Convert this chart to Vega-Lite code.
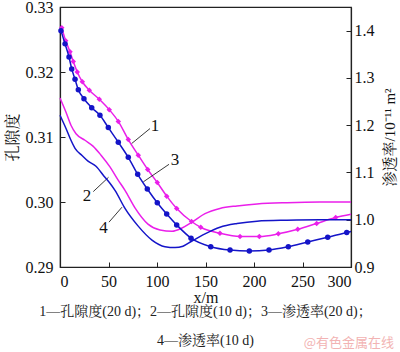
{
  "$schema": "https://vega.github.io/schema/vega-lite/v6.json",
  "width": 291,
  "height": 260,
  "autosize": {"type": "none"},
  "padding": {"left": 60, "top": 7, "right": 49, "bottom": 85},
  "config": {
    "font": "Liberation Serif, Noto Serif CJK SC, Noto Sans CJK SC",
    "view": {"stroke": "#222", "strokeWidth": 1.2},
    "axis": {
      "grid": false,
      "domainColor": "#222",
      "domainWidth": 1.2,
      "tickColor": "#222",
      "tickSize": -5,
      "labelColor": "#111",
      "titleColor": "#111",
      "labelFont": "Liberation Serif",
      "labelFontSize": 16,
      "titleFont": "Liberation Serif, Noto Serif CJK SC, Noto Sans CJK SC",
      "titleFontSize": 16,
      "titleFontWeight": "normal"
    }
  },
  "datasets": {
    "porosity": [
      {"s": "1", "x": 1.8, "y": 0.3268}, {"s": "1", "x": 5.9, "y": 0.3248}, {"s": "1", "x": 10.3, "y": 0.3231}, {"s": "1", "x": 13.7, "y": 0.3216}, {"s": "1", "x": 17.8, "y": 0.32}, {"s": "1", "x": 23.0, "y": 0.3185}, {"s": "1", "x": 30.2, "y": 0.3172}, {"s": "1", "x": 40.5, "y": 0.3158}, {"s": "1", "x": 50.8, "y": 0.3142}, {"s": "1", "x": 60.1, "y": 0.3124}, {"s": "1", "x": 70.4, "y": 0.3096}, {"s": "1", "x": 80.7, "y": 0.3072}, {"s": "1", "x": 90.4, "y": 0.305}, {"s": "1", "x": 100.3, "y": 0.303}, {"s": "1", "x": 110.0, "y": 0.3009}, {"s": "1", "x": 120.3, "y": 0.299}, {"s": "1", "x": 135.6, "y": 0.297}, {"s": "1", "x": 145.1, "y": 0.2961}, {"s": "1", "x": 164.9, "y": 0.2952}, {"s": "1", "x": 185.6, "y": 0.2947}, {"s": "1", "x": 205.5, "y": 0.2947}, {"s": "1", "x": 225.1, "y": 0.2951}, {"s": "1", "x": 245.1, "y": 0.2958}, {"s": "1", "x": 264.6, "y": 0.2967}, {"s": "1", "x": 284.2, "y": 0.2976}, {"s": "1", "x": 300, "y": 0.2981},
      {"s": "2", "x": 0, "y": 0.316}, {"s": "2", "x": 6.2, "y": 0.3138}, {"s": "2", "x": 11.3, "y": 0.3118}, {"s": "2", "x": 16.5, "y": 0.3105}, {"s": "2", "x": 25.8, "y": 0.3095}, {"s": "2", "x": 34.0, "y": 0.3086}, {"s": "2", "x": 42.3, "y": 0.3072}, {"s": "2", "x": 51.5, "y": 0.3054}, {"s": "2", "x": 59.8, "y": 0.3034}, {"s": "2", "x": 67.0, "y": 0.3018}, {"s": "2", "x": 77.3, "y": 0.2991}, {"s": "2", "x": 90.7, "y": 0.2966}, {"s": "2", "x": 103.1, "y": 0.2957}, {"s": "2", "x": 115.5, "y": 0.2955}, {"s": "2", "x": 125.8, "y": 0.296}, {"s": "2", "x": 136.1, "y": 0.2969}, {"s": "2", "x": 149.5, "y": 0.2982}, {"s": "2", "x": 164.9, "y": 0.299}, {"s": "2", "x": 182.5, "y": 0.2994}, {"s": "2", "x": 203.1, "y": 0.2997}, {"s": "2", "x": 234.0, "y": 0.2999}, {"s": "2", "x": 268.0, "y": 0.3}, {"s": "2", "x": 300, "y": 0.3}
    ],
    "perm": [
      {"s": "3", "x": 1.0, "y": 1.4}, {"s": "3", "x": 5.2, "y": 1.372}, {"s": "3", "x": 9.3, "y": 1.344}, {"s": "3", "x": 12.1, "y": 1.319}, {"s": "3", "x": 15.5, "y": 1.297}, {"s": "3", "x": 18.9, "y": 1.275}, {"s": "3", "x": 24.7, "y": 1.256}, {"s": "3", "x": 32.7, "y": 1.237}, {"s": "3", "x": 41.2, "y": 1.221}, {"s": "3", "x": 49.8, "y": 1.195}, {"s": "3", "x": 60.1, "y": 1.164}, {"s": "3", "x": 70.4, "y": 1.132}, {"s": "3", "x": 80.1, "y": 1.096}, {"s": "3", "x": 90.0, "y": 1.065}, {"s": "3", "x": 100.3, "y": 1.036}, {"s": "3", "x": 110.0, "y": 1.012}, {"s": "3", "x": 120.3, "y": 0.989}, {"s": "3", "x": 135.1, "y": 0.961}, {"s": "3", "x": 155.4, "y": 0.943}, {"s": "3", "x": 175.3, "y": 0.936}, {"s": "3", "x": 195.2, "y": 0.934}, {"s": "3", "x": 215.5, "y": 0.936}, {"s": "3", "x": 235.4, "y": 0.943}, {"s": "3", "x": 255.4, "y": 0.953}, {"s": "3", "x": 276.0, "y": 0.963}, {"s": "3", "x": 295.6, "y": 0.973}, {"s": "3", "x": 300, "y": 0.975},
      {"s": "4", "x": 0, "y": 1.221}, {"s": "4", "x": 6.2, "y": 1.193}, {"s": "4", "x": 11.3, "y": 1.168}, {"s": "4", "x": 15.5, "y": 1.151}, {"s": "4", "x": 22.7, "y": 1.136}, {"s": "4", "x": 28.9, "y": 1.124}, {"s": "4", "x": 37.1, "y": 1.113}, {"s": "4", "x": 45.4, "y": 1.092}, {"s": "4", "x": 51.5, "y": 1.077}, {"s": "4", "x": 56.7, "y": 1.062}, {"s": "4", "x": 67.0, "y": 1.024}, {"s": "4", "x": 80.4, "y": 0.987}, {"s": "4", "x": 94.8, "y": 0.957}, {"s": "4", "x": 108.2, "y": 0.943}, {"s": "4", "x": 118.6, "y": 0.941}, {"s": "4", "x": 126.8, "y": 0.944}, {"s": "4", "x": 136.1, "y": 0.955}, {"s": "4", "x": 149.5, "y": 0.97}, {"s": "4", "x": 164.9, "y": 0.984}, {"s": "4", "x": 182.5, "y": 0.992}, {"s": "4", "x": 203.1, "y": 0.997}, {"s": "4", "x": 234.0, "y": 0.999}, {"s": "4", "x": 268.0, "y": 1.0}, {"s": "4", "x": 300, "y": 1.0}
    ],
    "labels": [
      {"t": "1", "x": 97.9, "y": 0.3117},
      {"t": "3", "x": 118.6, "y": 0.3065},
      {"t": "2", "x": 27.8, "y": 0.3009},
      {"t": "4", "x": 44.8, "y": 0.296}
    ],
    "leaders": [
      {"x": 73.9, "y": 0.309, "x2": 92.8, "y2": 0.3113},
      {"x": 85.9, "y": 0.3031, "x2": 112.4, "y2": 0.3058},
      {"x": 34.3, "y": 0.3016, "x2": 50.0, "y2": 0.3038},
      {"x": 50.5, "y": 0.2969, "x2": 63.9, "y2": 0.2992}
    ],
    "notes": [
      {"t": "1—孔隙度(20 d)；2—孔隙度(10 d)；3—渗透率(20 d)；", "x": 150, "y": 0.29},
      {"t": "4—渗透率(10 d)", "x": 150, "y": 0.29},
      {"t": "@有色金属在线", "x": 300, "y": 0.29}
    ]
  },
  "layer": [
    {
      "layer": [
        {
          "data": {"name": "porosity"},
          "mark": {"type": "line", "interpolate": "monotone", "strokeWidth": 1.5},
          "encoding": {
            "x": {"field": "x", "type": "quantitative", "scale": {"domain": [0, 300], "nice": false}, "axis": {"values": [0, 50, 100, 150, 200, 250, 300], "title": "x/m", "labelPadding": 11, "titlePadding": 0, "titleFontSize": 16}},
            "y": {"field": "y", "type": "quantitative", "scale": {"domain": [0.29, 0.33], "nice": false, "zero": false}, "axis": {"values": [0.29, 0.3, 0.31, 0.32, 0.33], "format": ".2f", "title": "孔隙度", "labelPadding": 12, "titlePadding": 5}},
            "color": {"field": "s", "type": "nominal", "scale": {"domain": ["1", "2", "3", "4"], "range": ["#ea1fea", "#ea1fea", "#1414c8", "#1414c8"]}, "legend": null}
          }
        },
        {
          "data": {"name": "porosity"},
          "transform": [{"filter": "datum.s == '1' && datum.x < 299"}],
          "mark": {"type": "point", "shape": "diamond", "filled": true, "size": 30, "opacity": 1},
          "encoding": {
            "x": {"field": "x", "type": "quantitative"},
            "y": {"field": "y", "type": "quantitative"},
            "color": {"field": "s", "type": "nominal", "legend": null}
          }
        },
        {
          "data": {"name": "leaders"},
          "mark": {"type": "rule", "color": "#222", "strokeWidth": 0.9},
          "encoding": {
            "x": {"field": "x", "type": "quantitative"},
            "y": {"field": "y", "type": "quantitative"},
            "x2": {"field": "x2"},
            "y2": {"field": "y2"}
          }
        },
        {
          "data": {"name": "labels"},
          "mark": {"type": "text", "fontSize": 17, "font": "Liberation Serif", "color": "#111"},
          "encoding": {
            "x": {"field": "x", "type": "quantitative"},
            "y": {"field": "y", "type": "quantitative"},
            "text": {"field": "t"}
          }
        },
        {
          "data": {"name": "notes"},
          "transform": [{"filter": "indexof(datum.t, '1—') == 0"}],
          "mark": {"type": "text", "fontSize": 14, "color": "#222", "dy": 45, "font": "Liberation Serif, Noto Serif CJK SC, Noto Sans CJK SC"},
          "encoding": {
            "x": {"field": "x", "type": "quantitative"},
            "y": {"field": "y", "type": "quantitative"},
            "text": {"field": "t"}
          }
        },
        {
          "data": {"name": "notes"},
          "transform": [{"filter": "indexof(datum.t, '4—') == 0"}],
          "mark": {"type": "text", "fontSize": 14, "color": "#222", "dy": 74, "font": "Liberation Serif, Noto Serif CJK SC, Noto Sans CJK SC"},
          "encoding": {
            "x": {"field": "x", "type": "quantitative"},
            "y": {"field": "y", "type": "quantitative"},
            "text": {"field": "t"}
          }
        },
        {
          "data": {"name": "notes"},
          "transform": [{"filter": "indexof(datum.t, '@') == 0"}],
          "mark": {"type": "text", "fontSize": 13, "color": "#f2b3b3", "align": "right", "dx": 43, "dy": 76, "font": "Noto Sans CJK SC"},
          "encoding": {
            "x": {"field": "x", "type": "quantitative"},
            "y": {"field": "y", "type": "quantitative"},
            "text": {"field": "t"}
          }
        }
      ]
    },
    {
      "layer": [
        {
          "data": {"name": "perm"},
          "mark": {"type": "line", "interpolate": "monotone", "strokeWidth": 1.5},
          "encoding": {
            "x": {"field": "x", "type": "quantitative"},
            "y": {"field": "y", "type": "quantitative", "scale": {"domain": [0.9, 1.45], "nice": false, "zero": false}, "axis": {"orient": "right", "values": [0.9, 1.0, 1.1, 1.2, 1.3, 1.4], "format": ".1f", "title": "渗透率/10⁻¹¹ m²", "titleAngle": -90, "titleFontSize": 15, "labelPadding": 8, "titlePadding": 23}},
            "color": {"field": "s", "type": "nominal", "legend": null}
          }
        },
        {
          "data": {"name": "perm"},
          "transform": [{"filter": "datum.s == '3' && datum.x < 299"}],
          "mark": {"type": "point", "shape": "circle", "filled": true, "size": 30, "opacity": 1},
          "encoding": {
            "x": {"field": "x", "type": "quantitative"},
            "y": {"field": "y", "type": "quantitative"},
            "color": {"field": "s", "type": "nominal", "legend": null}
          }
        }
      ]
    }
  ],
  "resolve": {"scale": {"y": "independent"}}
}
